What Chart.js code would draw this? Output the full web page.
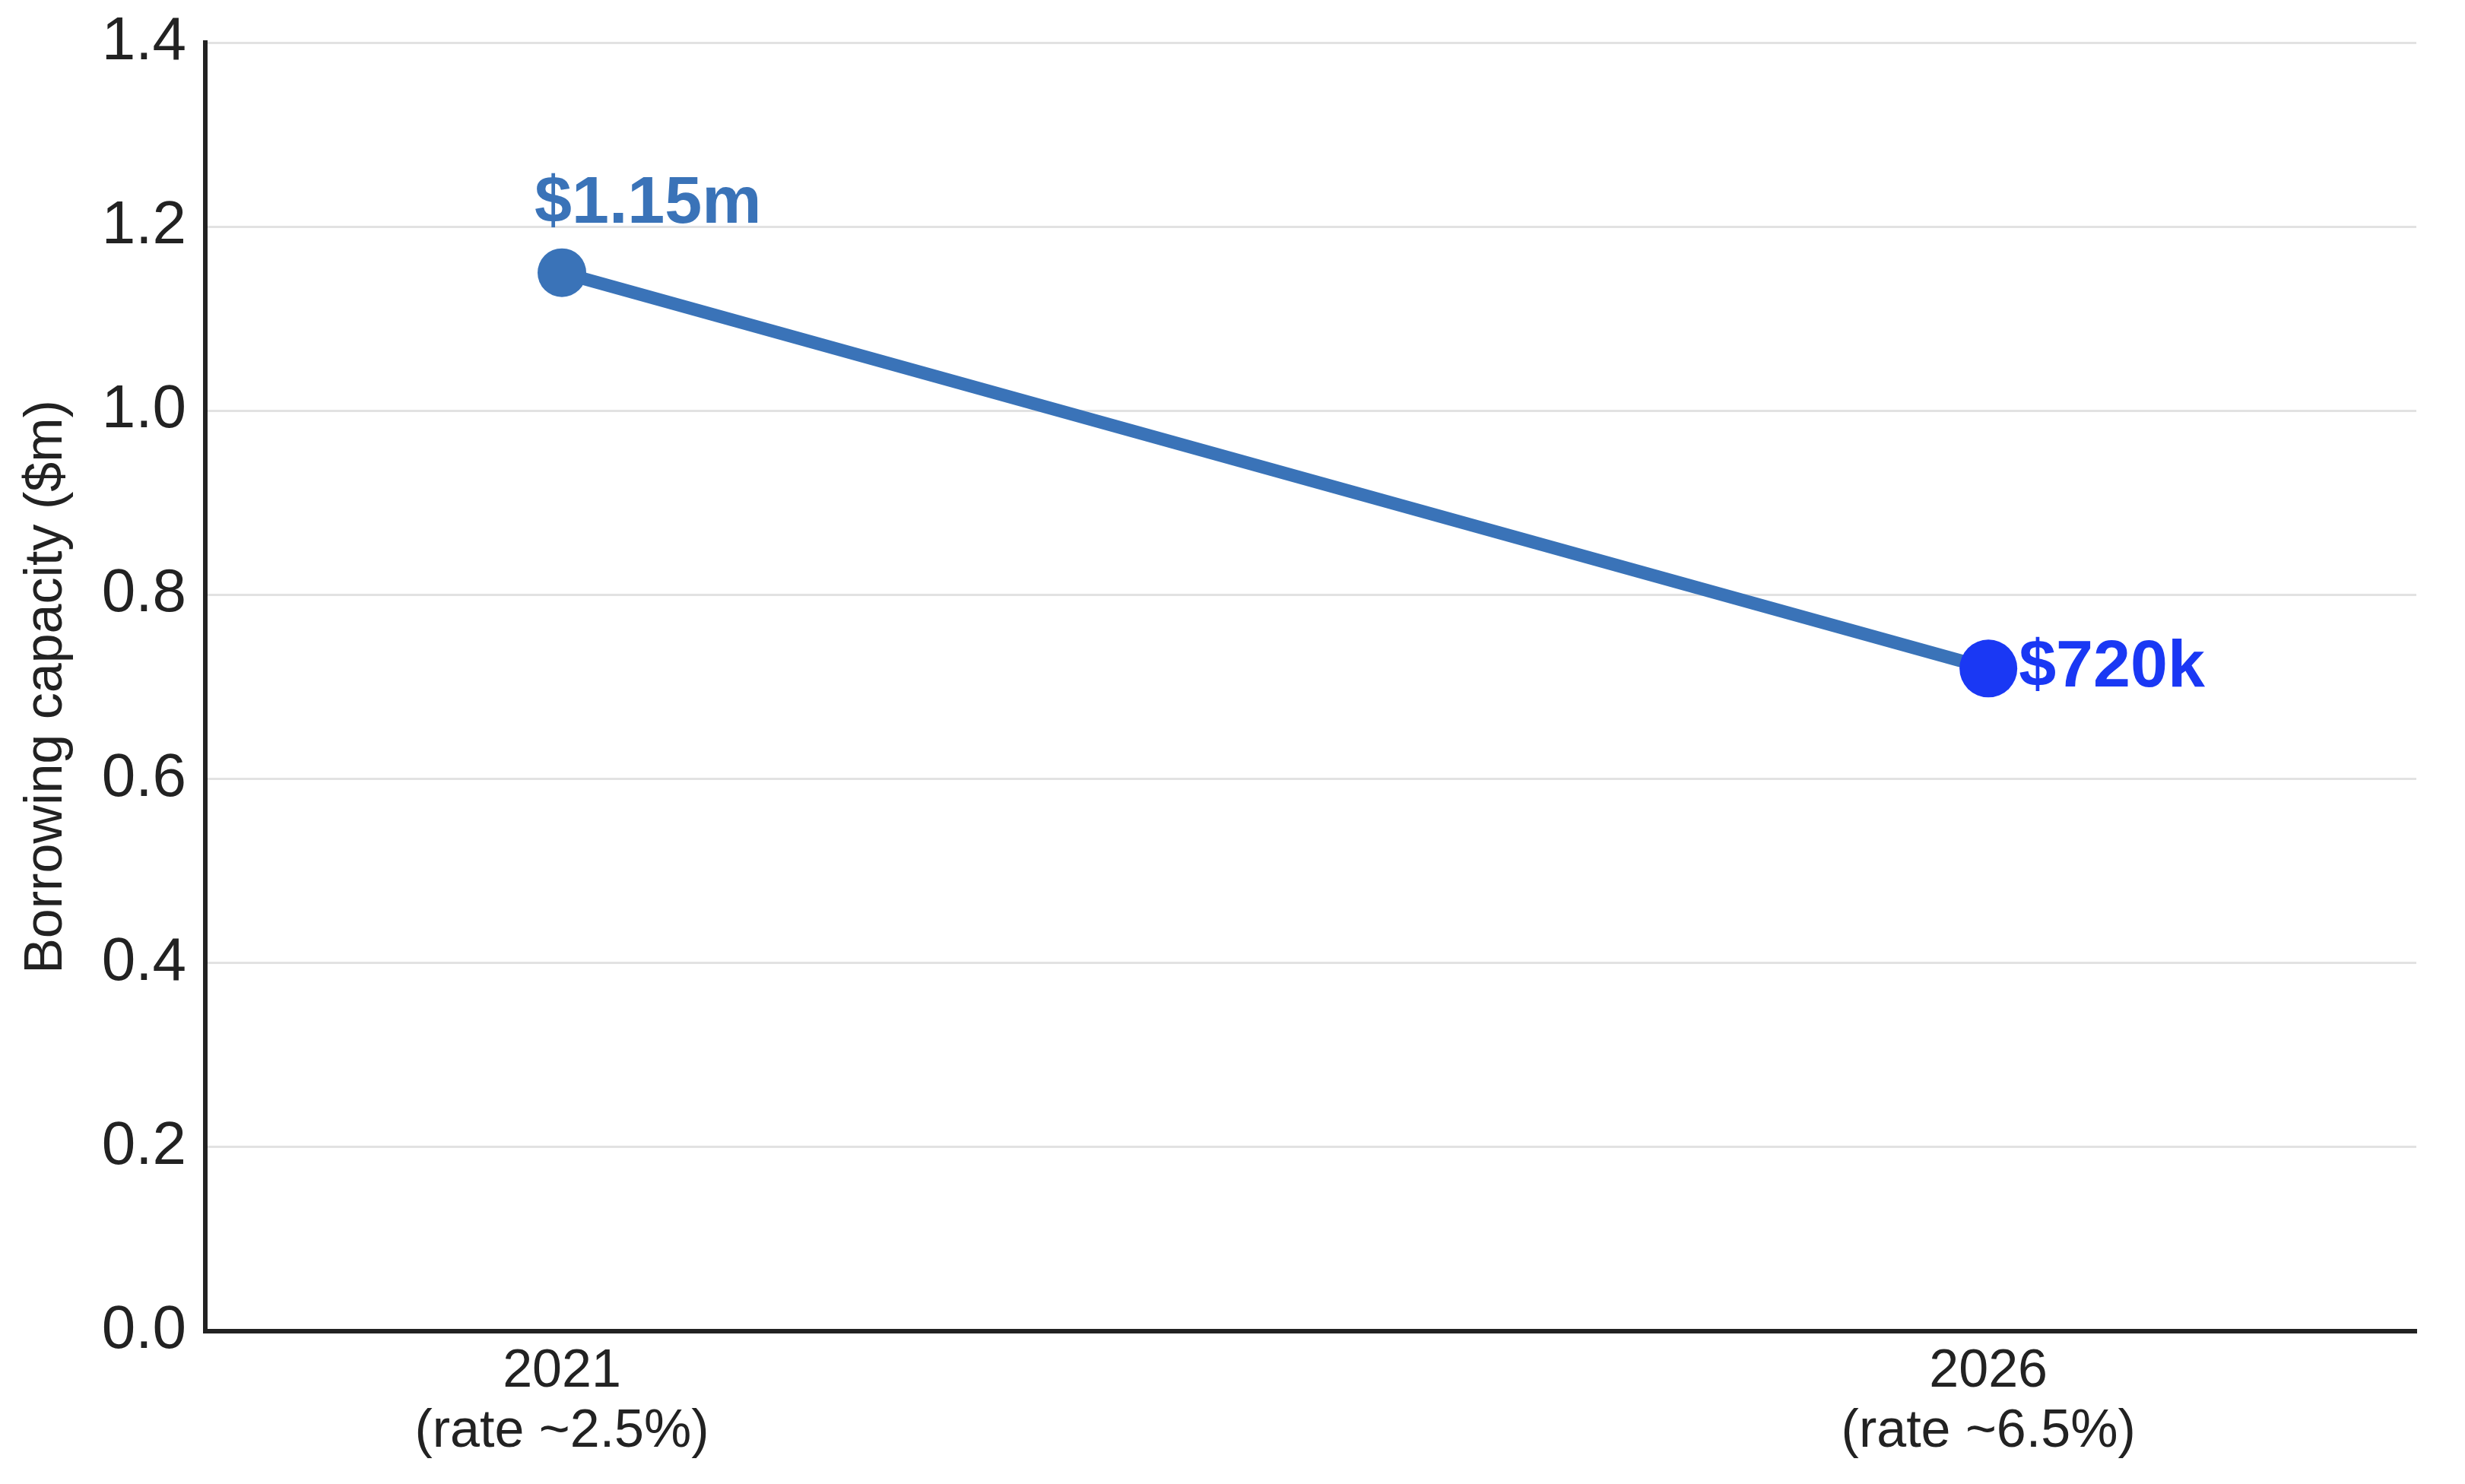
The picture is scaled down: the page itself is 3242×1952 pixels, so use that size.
<!DOCTYPE html>
<html>
<head>
<meta charset="utf-8">
<script src="https://cdn.jsdelivr.net/npm/chart.js@4/dist/chart.umd.min.js"></script>
<style>
body{margin:0;background:#fff}
canvas{display:block}
</style>
</head>
<body>
<canvas id="chart" width="3242" height="1952"></canvas>
<script>
const years=[["2021","(rate ~2.5%)"],["2026","(rate ~6.5%)"]]
const capacity=[1.15,0.72]
const valueLabels=["$1.15m","$720k"]
const yTicks=[0,0.2,0.4,0.6,0.8,1.0,1.2,1.4]

const lineColor="#3a73b8"
const endColor="#1a38f4"
const font="'Liberation Sans', Arial, sans-serif"

// text next to each point
const pointLabels={
id:"pointLabels",
afterDatasetsDraw(chart){
let ctx=chart.ctx
let pts=chart.getDatasetMeta(0).data
ctx.save()
ctx.font="bold 88px "+font
ctx.textAlign="left"
ctx.textBaseline="alphabetic"
ctx.fillStyle=lineColor
ctx.fillText(valueLabels[0],pts[0].x-36,pts[0].y-66)
ctx.fillStyle=endColor
ctx.fillText(valueLabels[1],pts[1].x+40,pts[1].y+24)
ctx.restore()
}
}

new Chart(document.getElementById("chart"),{
type:"line",
data:{
datasets:[{
data:capacity.map((v,i)=>({x:i,y:v})),
borderColor:lineColor,
borderWidth:17,
pointRadius:[32,38],
pointHoverRadius:[32,38],
pointBackgroundColor:[lineColor,endColor],
pointBorderWidth:0,
tension:0
}]
},
options:{
responsive:false,
animation:false,
devicePixelRatio:1,
layout:{padding:{left:0,top:56,right:64,bottom:0}},
plugins:{legend:{display:false},tooltip:{enabled:false}},
scales:{
x:{
type:"linear",
min:-0.25,
max:1.3,
afterBuildTicks(s){s.ticks=years.map((y,i)=>({value:i}))},
afterFit(s){s.height=201;s.paddingLeft=0;s.paddingRight=0},
grid:{display:false,drawTicks:false},
border:{display:true,color:"#222",width:6},
ticks:{
padding:14,
color:"#222",
font:{family:font,size:70,lineHeight:1.13},
maxRotation:0,
callback:(v)=>years[v]
}
},
y:{
min:0,
max:1.4,
afterBuildTicks(s){s.ticks=yTicks.map(v=>({value:v}))},
afterFit(s){s.width=270;s.paddingTop=0;s.paddingBottom=0},
grid:{color:"#e2e2e2",lineWidth:3,drawTicks:false},
border:{display:true,color:"#222",width:6},
ticks:{
padding:25,
color:"#222",
font:{family:font,size:80},
callback:(v)=>v.toFixed(1)
},
title:{
display:true,
text:"Borrowing capacity ($m)",
color:"#222",
font:{family:font,size:70,lineHeight:1.2},
padding:{top:20,bottom:0}
}
}
}
},
plugins:[pointLabels]
})
</script>
</body>
</html>
